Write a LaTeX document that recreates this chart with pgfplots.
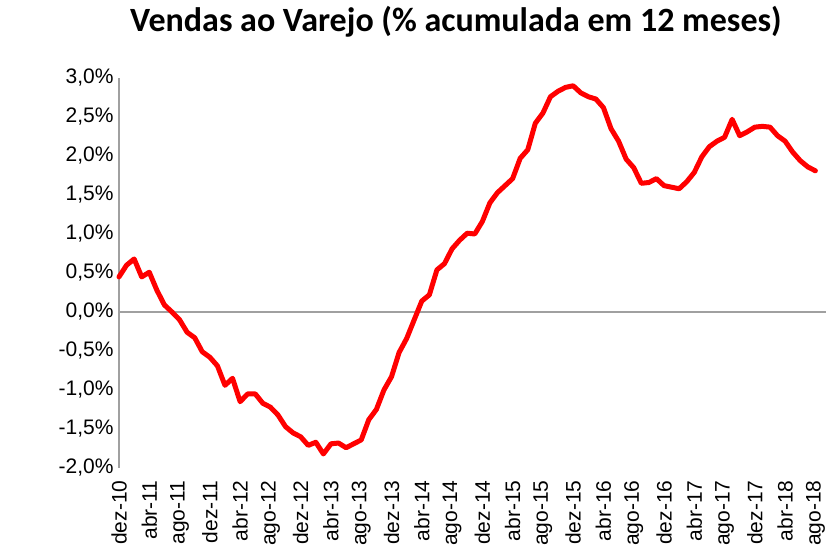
\documentclass[border=0pt]{standalone}
\usepackage{fontspec}
\setmainfont{Liberation Sans}
\newfontfamily\titlefont{Carlito}
\usepackage{pgfplots}
\usepackage{pgfplotstable}
\pgfplotsset{compat=1.18}
\definecolor{linha}{HTML}{FF0000}
\definecolor{eixo}{HTML}{A0A0A0}

% mes (0 = dez-10) e vendas acumuladas em 12 meses (%)
\pgfplotstableread{
i v
0 0.45
1 0.60
2 0.68
3 0.45
4 0.51
5 0.28
6 0.09
7 0.00
8 -0.10
9 -0.26
10 -0.33
11 -0.51
12 -0.58
13 -0.69
14 -0.94
15 -0.85
16 -1.15
17 -1.05
18 -1.05
19 -1.17
20 -1.22
21 -1.32
22 -1.47
23 -1.55
24 -1.60
25 -1.71
26 -1.67
27 -1.82
28 -1.69
29 -1.68
30 -1.74
31 -1.69
32 -1.64
33 -1.38
34 -1.25
35 -1.00
36 -0.83
37 -0.52
38 -0.34
39 -0.10
40 0.14
41 0.22
42 0.54
43 0.62
44 0.81
45 0.92
46 1.01
47 1.00
48 1.16
49 1.40
50 1.53
51 1.62
52 1.71
53 1.97
54 2.08
55 2.42
56 2.55
57 2.76
58 2.83
59 2.88
60 2.90
61 2.81
62 2.76
63 2.73
64 2.62
65 2.35
66 2.19
67 1.96
68 1.85
69 1.65
70 1.66
71 1.71
72 1.62
73 1.60
74 1.58
75 1.67
76 1.79
77 1.99
78 2.12
79 2.19
80 2.24
81 2.47
82 2.26
83 2.31
84 2.37
85 2.38
86 2.37
87 2.26
88 2.19
89 2.05
90 1.94
91 1.86
92 1.81
}\vendas

\begin{document}
\begin{tikzpicture}
\useasboundingbox (-119pt,-88pt) rectangle (714pt,468pt);
\begin{axis}[at={(0,0)},anchor=south west,scale only axis,
  width=707pt,height=390pt,
  xmin=0,xmax=93.4,ymin=-2,ymax=3,clip=false,
  axis x line*=bottom,axis y line*=left,
  x axis line style={draw=none},
  y axis line style={eixo,line width=1.5pt,-},
  major tick length=0pt,
  xtick={0,4,...,92},
  xticklabels={dez-10,abr-11,ago-11,dez-11,abr-12,ago-12,dez-12,abr-13,ago-13,dez-13,abr-14,ago-14,dez-14,abr-15,ago-15,dez-15,abr-16,ago-16,dez-16,abr-17,ago-17,dez-17,abr-18,ago-18},
  x tick label style={rotate=90,anchor=east,font=\fontsize{21}{25}\selectfont},
  xticklabel shift=9pt,
  ytick={-2,-1.5,-1,-0.5,0,0.5,1,1.5,2,2.5,3},
  yticklabels={{-2,0\%},{-1,5\%},{-1,0\%},{-0,5\%},{0,0\%},{0,5\%},{1,0\%},{1,5\%},{2,0\%},{2,5\%},{3,0\%}},
  y tick label style={font=\fontsize{21}{25}\selectfont},
  yticklabel shift=2pt,
  extra y ticks={0},extra y tick labels={},
  extra y tick style={grid=major,major grid style={eixo,line width=1.5pt}},
]
\addplot[linha,line width=5pt,line join=round,line cap=round] table[x=i,y=v] {\vendas};
\end{axis}
\node[font=\titlefont\bfseries\fontsize{34}{40}\selectfont] at (337pt,446pt) {Vendas ao Varejo (\% acumulada em 12 meses)};
\end{tikzpicture}
\end{document}
